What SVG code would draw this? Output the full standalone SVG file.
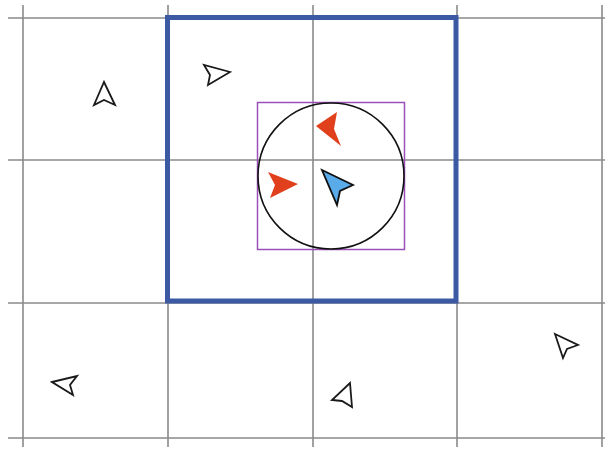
<svg xmlns="http://www.w3.org/2000/svg" width="605" height="450" viewBox="0 0 605 450">
<style>
.grid{stroke:#8a8a8a;stroke-width:1.6;fill:none}
.ptr{fill:#fff;stroke:#1a1a1a;stroke-width:1.8;stroke-linejoin:miter}
.red{fill:#e0401c;stroke:none}
.me{fill:#5aabea;stroke:#111;stroke-width:1.8}
</style>
<rect width="605" height="450" fill="#fff"/>
<g id="grid" class="grid">
<line x1="23" y1="5" x2="23" y2="447"/>
<line x1="168" y1="5" x2="168" y2="447"/>
<line x1="313" y1="5" x2="313" y2="447"/>
<line x1="457" y1="5" x2="457" y2="447"/>
<line x1="602" y1="5" x2="602" y2="447"/>
<line x1="8" y1="18" x2="610" y2="18"/>
<line x1="8" y1="160" x2="610" y2="160"/>
<line x1="8" y1="303" x2="610" y2="303"/>
<line x1="8" y1="438" x2="610" y2="438"/>
</g>
<rect id="region" x="167.5" y="17.5" width="288.5" height="283.5" fill="none" stroke="#3b5aa3" stroke-width="5"/>
<rect id="bbox" x="257.5" y="102.5" width="147" height="147" fill="none" stroke="#9b4fb8" stroke-width="1.5"/>
<circle id="range" cx="331" cy="176" r="73" fill="none" stroke="#111" stroke-width="1.6"/>
<g id="agents">
<polygon class="ptr" points="104,82 115,105 104,100 94,105"/>
<polygon class="ptr" points="230,72 208,85 210,75 204,65"/>
<polygon class="ptr" points="52,382 77,376 70,385 73,395"/>
<polygon class="ptr" points="350,383 352,407 342,401 332,400"/>
<polygon class="ptr" points="555,334 578,345 567,349 563,358"/>
<polygon class="red" points="316,126 337,112 334,129 341,146"/>
<polygon class="red" points="298,184 270,198 275,185 268,172"/>
<polygon class="me" points="322,170 353,185 340,191 337,205"/>
</g>
</svg>
